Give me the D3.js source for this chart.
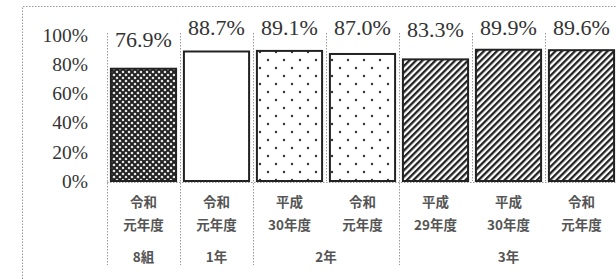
<!DOCTYPE html>
<html>
<head>
<meta charset="utf-8">
<script src="https://cdn.jsdelivr.net/npm/d3@7"></script>
<style>
  body { margin: 0; background: #fff; }
  svg { display: block; }
</style>
</head>
<body>
<div id="chart"></div>
<script>
// data
var lineOne = ["令和", "令和", "平成", "令和", "平成", "平成", "令和"];
var lineTwo = ["元年度", "元年度", "30年度", "元年度", "29年度", "30年度", "元年度"];
var rates = [76.9, 88.7, 89.1, 87.0, 83.3, 89.9, 89.6];
var fills = ["cross", "white", "dots", "dots", "hatch", "hatch", "hatch"];
var groups = [
  { name: "8組", from: 0, to: 0 },
  { name: "1年", from: 1, to: 1 },
  { name: "2年", from: 2, to: 3 },
  { name: "3年", from: 4, to: 6 }
];
var yTicks = [0, 20, 40, 60, 80, 100];

var width = 616, height = 279;
var svg = d3.select("#chart").append("svg")
  .attr("width", width)
  .attr("height", height);

var defs = svg.append("defs");

// crosshatch diamonds
var pc = defs.append("pattern").attr("id", "cross")
  .attr("patternUnits", "userSpaceOnUse").attr("width", 6).attr("height", 6);
pc.append("rect").attr("width", 6).attr("height", 6).attr("fill", "#fff");
pc.append("path").attr("d", "M0,0 L6,6 M6,0 L0,6 M-3,3 L3,9 M3,-3 L9,3 M3,-3 L-3,3 M9,3 L3,9")
  .attr("stroke", "#222").attr("stroke-width", 2.1);

// staggered dots
var pd = defs.append("pattern").attr("id", "dots")
  .attr("patternUnits", "userSpaceOnUse").attr("width", 16).attr("height", 16);
pd.append("rect").attr("width", 16).attr("height", 16).attr("fill", "#fff");
pd.append("circle").attr("cx", 4).attr("cy", 4).attr("r", 1.2).attr("fill", "#333");
pd.append("circle").attr("cx", 12).attr("cy", 12).attr("r", 1.2).attr("fill", "#333");

// diagonal hatch
var ph = defs.append("pattern").attr("id", "hatch")
  .attr("patternUnits", "userSpaceOnUse").attr("width", 4.6).attr("height", 4.6)
  .attr("patternTransform", "rotate(45)");
ph.append("rect").attr("width", 4.6).attr("height", 4.6).attr("fill", "#fff");
ph.append("rect").attr("width", 2.3).attr("height", 4.6).attr("fill", "#222");

var x = d3.scaleBand()
  .domain(d3.range(rates.length))
  .range([107, 618])
  .paddingInner(0.08)
  .paddingOuter(0.04);

var y = d3.scaleLinear().domain([0, 100]).range([181, 35]);

var dotted = "#999";

// outer frame
svg.append("path")
  .attr("d", "M22.5,279 L22.5,6.5 L616,6.5")
  .attr("fill", "none").attr("stroke", dotted)
  .attr("stroke-width", 1).attr("stroke-dasharray", "1.5,1.5");

// separators between categories
var step = x.step();
var x0 = 107;
d3.range(rates.length + 1).forEach(function(i) {
  var xs = x0 + i * step;
  var isGroupEdge = groups.some(function(g) { return g.from == i; }) || i == rates.length;
  svg.append("line")
    .attr("x1", xs + 0.5).attr("x2", xs + 0.5)
    .attr("y1", 33).attr("y2", isGroupEdge ? 265 : 181)
    .attr("stroke", dotted).attr("stroke-dasharray", "1.5,1.5");
});

// baseline
svg.append("line")
  .attr("x1", 107).attr("x2", 616)
  .attr("y1", y(0) + 1.5).attr("y2", y(0) + 1.5)
  .attr("stroke", dotted).attr("stroke-dasharray", "1.5,1.5");

// y axis labels (no axis line)
svg.append("g").selectAll("text")
  .data(yTicks).enter().append("text")
  .attr("x", 88)
  .attr("y", d => y(d))
  .attr("dy", "0.35em")
  .attr("text-anchor", "end")
  .attr("font-family", "Liberation Serif, serif")
  .attr("font-size", 19.5)
  .attr("fill", "#333")
  .text(d => d + "%");

// bars
svg.append("g").selectAll("rect")
  .data(rates).enter().append("rect")
  .attr("x", (d, i) => x(i) + 1)
  .attr("y", d => y(d))
  .attr("width", x.bandwidth() - 2)
  .attr("height", d => y(0) - y(d))
  .attr("fill", (d, i) => fills[i] == "white" ? "#fff" : "url(#" + fills[i] + ")")
  .attr("stroke", "#222")
  .attr("stroke-width", 2);

// value labels
svg.append("g").selectAll("text")
  .data(rates).enter().append("text")
  .attr("x", (d, i) => x(i) + x.bandwidth() / 2)
  .attr("y", d => Math.max(35, y(d) - 22))
  .attr("text-anchor", "middle")
  .attr("font-family", "Liberation Serif, serif")
  .attr("font-size", 22)
  .attr("fill", "#333")
  .text(d => d.toFixed(1) + "%");

// category labels
var catFont = "Noto Sans CJK JP, sans-serif";
var cats = svg.append("g");
rates.forEach(function(d, i) {
  var cx = x(i) + x.bandwidth() / 2;
  cats.append("text").attr("x", cx).attr("y", 207)
    .attr("text-anchor", "middle").attr("font-family", catFont)
    .attr("font-size", 13.5).attr("font-weight", "bold").attr("fill", "#555")
    .text(lineOne[i]);
  cats.append("text").attr("x", cx).attr("y", 230)
    .attr("text-anchor", "middle").attr("font-family", catFont)
    .attr("font-size", 13.5).attr("font-weight", "bold").attr("fill", "#555")
    .text(lineTwo[i]);
});

// group labels
svg.append("g").selectAll("text")
  .data(groups).enter().append("text")
  .attr("x", g => g.from == 2 ? x0 + 3 * step : (x(g.from) + x(g.to) + x.bandwidth()) / 2)
  .attr("y", 262)
  .attr("text-anchor", "middle")
  .attr("font-family", catFont)
  .attr("font-size", 13.5).attr("font-weight", "bold").attr("fill", "#555")
  .text(g => g.name);
</script>
</body>
</html>
